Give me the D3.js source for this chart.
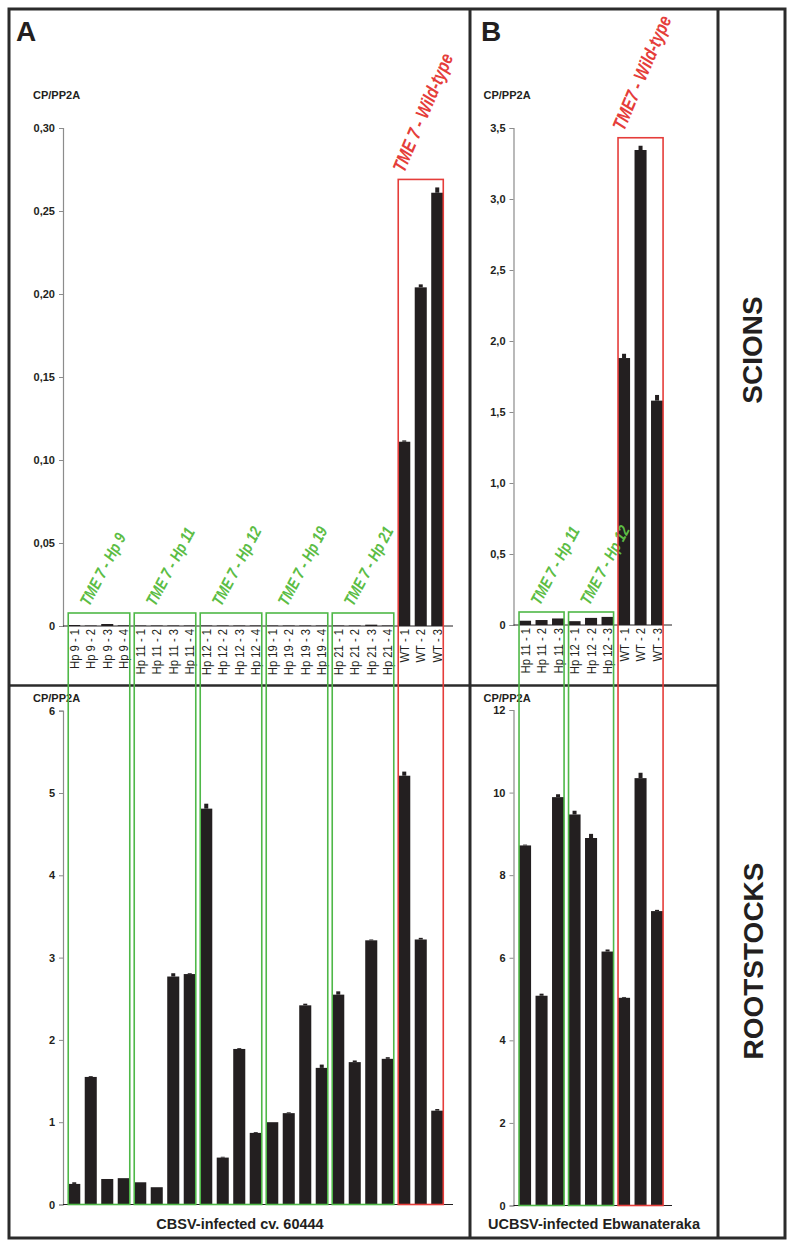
<!DOCTYPE html>
<html>
<head>
<meta charset="utf-8">
<script src="https://cdn.jsdelivr.net/npm/d3@7"></script>
<style>
body{margin:0;background:#fff;}
text{font-family:Arial,"Liberation Sans",sans-serif;fill:#231f20;}
</style>
</head>
<body>
<div id="fig"></div>
<script>

// ---------- data ----------
var labelsA = ["Hp 9 - 1","Hp 9 - 2","Hp 9 - 3","Hp 9 - 4",
  "Hp 11 - 1","Hp 11 - 2","Hp 11 - 3","Hp 11 - 4",
  "Hp 12 - 1","Hp 12 - 2","Hp 12 - 3","Hp 12 - 4",
  "Hp 19 - 1","Hp 19 - 2","Hp 19 - 3","Hp 19 - 4",
  "Hp 21 - 1","Hp 21 - 2","Hp 21 - 3","Hp 21 - 4",
  "WT - 1","WT - 2","WT - 3"];
var scionsA    = [0.0006,0.0003,0.0012,0.0004, 0.0003,0.0003,0.0003,0.0003,
                  0.0003,0.0003,0.0003,0.0003, 0.0003,0.0003,0.0003,0.0003,
                  0.0003,0.0003,0.0008,0.0003, 0.111,0.204,0.261];
var scionsAErr = [0,0,0,0, 0,0,0,0, 0,0,0,0, 0,0,0,0, 0,0,0,0, 0.0008,0.0018,0.0032];
var rootsA     = [0.25,1.55,0.31,0.32, 0.27,0.21,2.77,2.80,
                  4.81,0.57,1.89,0.87, 1.00,1.11,2.42,1.66,
                  2.55,1.73,3.21,1.77, 5.21,3.22,1.14];
var rootsAErr  = [0.02,0.01,0.0,0.0, 0.0,0.0,0.04,0.01,
                  0.06,0.01,0.01,0.01, 0.0,0.01,0.02,0.04,
                  0.04,0.02,0.01,0.02, 0.05,0.02,0.02];
var groupsA    = ["TME 7 - Hp 9","TME 7 - Hp 11","TME 7 - Hp 12","TME 7 - Hp 19","TME 7 - Hp 21","TME 7 - Wild-type"];
var groupSizeA = [4,4,4,4,4,3];

var labelsB = ["Hp 11 - 1","Hp 11 - 2","Hp 11 - 3",
  "Hp 12 - 1","Hp 12 - 2","Hp 12 - 3",
  "WT - 1","WT - 2","WT - 3"];
var scionsB    = [0.03,0.035,0.046, 0.027,0.05,0.057, 1.88,3.345,1.58];
var scionsBErr = [0,0,0, 0,0,0, 0.03,0.03,0.04];
var rootsB     = [8.72,5.08,9.89, 9.47,8.90,6.15, 5.03,10.35,7.13];
var rootsBErr  = [0.02,0.05,0.07, 0.09,0.10,0.05, 0.02,0.13,0.03];
var groupsB    = ["TME 7 - Hp 11","TME 7 - Hp 12","TME7 - Wild-type"];
var groupSizeB = [3,3,3];

var ticksScionA = [0,0.05,0.10,0.15,0.20,0.25,0.30];
var ticksRootA  = [0,1,2,3,4,5,6];
var ticksScionB = [0,0.5,1.0,1.5,2.0,2.5,3.0,3.5];
var ticksRootB  = [0,2,4,6,8,10,12];

var green = "#4fb848", greenText = "#5cbd45", red = "#e53d3a";
var barColor = "#231f20";

// ---------- svg ----------
var W = 794, H = 1248;
var svg = d3.select("#fig").append("svg")
  .attr("width",W).attr("height",H);

// frame
var frame = svg.append("g").attr("class","frame")
  .attr("stroke","#2b2b2b").attr("fill","none");
frame.append("rect").attr("x",9).attr("y",9).attr("width",776).attr("height",1229).attr("stroke-width",3);
frame.append("line").attr("x1",470).attr("x2",470).attr("y1",9).attr("y2",1238).attr("stroke-width",3);
frame.append("line").attr("x1",718).attr("x2",718).attr("y1",9).attr("y2",1238).attr("stroke-width",3);
frame.append("line").attr("x1",9).attr("x2",718).attr("y1",685.5).attr("y2",685.5).attr("stroke-width",2.5);

svg.append("text").attr("x",16).attr("y",41).attr("font-size",28).attr("font-weight","bold").text("A");
svg.append("text").attr("x",481).attr("y",41).attr("font-size",28).attr("font-weight","bold").text("B");

svg.append("text").attr("transform","translate(762,350) rotate(-90)")
  .attr("text-anchor","middle").attr("font-size",28).attr("font-weight","bold").text("SCIONS");
svg.append("text").attr("transform","translate(763,961) rotate(-90)")
  .attr("text-anchor","middle").attr("font-size",28).attr("font-weight","bold").text("ROOTSTOCKS");

//......................... one panel ...........................
function panel(opt){
  var x = d3.scaleBand()
    .domain(opt.labels)
    .range(opt.xRange)
    .paddingInner(0.27)
    .paddingOuter(0.135);

  var yTop = d3.scaleLinear().domain(opt.topDomain).range(opt.topRange);
  var yBot = d3.scaleLinear().domain(opt.botDomain).range(opt.botRange);

  var g = svg.append("g").attr("class","panel");

  function chart(y, vals, errs, ticks, fmt, titleY){
    var axis = d3.axisLeft(y)
      .tickValues(ticks)
      .tickFormat(fmt)
      .tickSize(4)
      .tickPadding(4);
    var ax = g.append("g")
      .attr("transform","translate("+opt.axisX+",0)")
      .call(axis);
    ax.select(".domain").attr("stroke","#8c8c8c").attr("stroke-width",1.2);
    ax.selectAll(".tick line").attr("stroke","#8c8c8c");
    ax.selectAll(".tick text")
      .attr("font-size",11).attr("font-weight","bold")
      .attr("font-family","Arial, 'Liberation Sans', sans-serif")
      .attr("fill","#231f20");

    g.append("text").attr("x",opt.axisX-30).attr("y",titleY)
      .attr("font-size",11).attr("font-weight","bold").text("CP/PP2A");

    g.append("g").selectAll("rect")
      .data(vals).enter().append("rect")
      .attr("x",function(d,i){return x(opt.labels[i]);})
      .attr("y",function(d){return y(d);})
      .attr("width",x.bandwidth())
      .attr("height",function(d){return y(0)-y(d);})
      .attr("fill",barColor);

    g.append("g").selectAll("rect")
      .data(vals).enter().append("rect")
      .attr("x",function(d,i){return x(opt.labels[i])+x.bandwidth()/2-2;})
      .attr("y",function(d,i){return y(d+errs[i]);})
      .attr("width",4)
      .attr("height",function(d,i){return y(d)-y(d+errs[i]);})
      .attr("fill",barColor);

    g.append("line")
      .attr("x1",opt.axisX).attr("x2",opt.baseEnd)
      .attr("y1",y(0)).attr("y2",y(0))
      .attr("stroke","#231f20").attr("stroke-width",1);
  }

  chart(yTop, opt.scions, opt.scionsErr, opt.topTicks, opt.topFmt, 99);
  chart(yBot, opt.roots, opt.rootsErr, opt.botTicks, function(d){return d;}, 702);

  // x labels
  g.append("g").selectAll("text")
    .data(opt.labels).enter().append("text")
    .attr("transform",function(d){
      return "translate("+(x(d)+x.bandwidth()/2+4.5)+","+(yTop(0)+3)+") rotate(-90) scale(0.9,1)";})
    .attr("text-anchor","end")
    .attr("font-size",12.5)
    .text(function(d){return d;});

  // group boxes
  var start = 0;
  opt.groups.forEach(function(name,gi){
    var n = opt.groupSize[gi];
    var first = opt.labels[start], last = opt.labels[start+n-1];
    var wt = name.indexOf("Wild") >= 0;
    var maxTop = d3.max(d3.range(start,start+n),function(i){return opt.scions[i]+opt.scionsErr[i];});
    var top = wt ? yTop(maxTop)-8 : yTop(0)-13;
    var bx = x(first), bw = x(last)+x.bandwidth()-x(first);
    var col = wt ? red : green;
    g.append("rect")
      .attr("x",bx).attr("y",top)
      .attr("width",bw).attr("height",yBot(0)-top)
      .attr("fill","none").attr("stroke",col).attr("stroke-width",1.6);
    var tx = wt ? bx+6 : bx+21;
    g.append("text")
      .attr("transform","translate("+tx+","+(top-6)+") rotate("+(wt?-67:-62)+") scale(0.8,1)")
      .attr("font-style","italic")
      .attr("font-weight","bold")
      .attr("font-size",wt ? 19 : 16.5)
      .style("fill",wt ? red : greenText)
      .text(name);
    start += n;
  });

  svg.append("text")
    .attr("x",opt.titleX).attr("y",1229)
    .attr("text-anchor","middle")
    .attr("font-size",14.5).attr("font-weight","bold")
    .text(opt.title);
}

function commaFmt(p){
  return function(d){ return d === 0 ? "0" : d3.format("."+p+"f")(d).replace(".",","); };
}

panel({
  labels: labelsA, xRange: [66, 66+23*16.5], axisX: 63, baseEnd: 453,
  topDomain: [0,0.30], topRange: [626,128],
  botDomain: [0,6], botRange: [1204.5,710.7],
  scions: scionsA, scionsErr: scionsAErr, roots: rootsA, rootsErr: rootsAErr,
  topTicks: ticksScionA, topFmt: commaFmt(2), botTicks: ticksRootA,
  groups: groupsA, groupSize: groupSizeA,
  title: "CBSV-infected cv. 60444", titleX: 240
});

panel({
  labels: labelsB, xRange: [516.8, 516.8+9*16.5], axisX: 513.5, baseEnd: 672,
  topDomain: [0,3.5], topRange: [625,128],
  botDomain: [0,12], botRange: [1205.5,710],
  scions: scionsB, scionsErr: scionsBErr, roots: rootsB, rootsErr: rootsBErr,
  topTicks: ticksScionB, topFmt: commaFmt(1), botTicks: ticksRootB,
  groups: groupsB, groupSize: groupSizeB,
  title: "UCBSV-infected Ebwanateraka", titleX: 594
});

</script>
</body>
</html>
